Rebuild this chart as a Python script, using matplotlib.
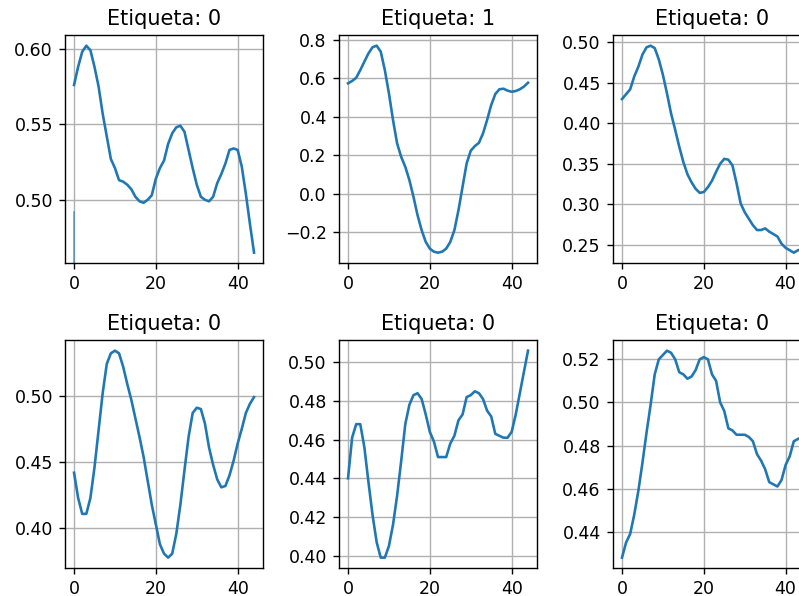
#Sample series grid

#import packages
import numpy as np
import matplotlib
matplotlib.use('Agg')
import matplotlib.pyplot as plt

titles = ['Etiqueta: 0', 'Etiqueta: 1', 'Etiqueta: 0',
          'Etiqueta: 0', 'Etiqueta: 0', 'Etiqueta: 0']

s1 = [0.576, 0.588, 0.598, 0.602, 0.599, 0.588, 0.575, 0.557, 0.542, 0.527,
      0.521, 0.513, 0.512, 0.510, 0.507, 0.502, 0.499, 0.498, 0.500, 0.503,
      0.514, 0.521, 0.526, 0.537, 0.544, 0.548, 0.549, 0.545, 0.533, 0.521,
      0.510, 0.502, 0.500, 0.499, 0.502, 0.511, 0.517, 0.524, 0.533, 0.534,
      0.533, 0.522, 0.504, 0.484, 0.465]
s2 = [0.574, 0.586, 0.603, 0.643, 0.687, 0.730, 0.762, 0.770, 0.739, 0.643,
      0.522, 0.383, 0.261, 0.191, 0.139, 0.070, -0.017, -0.113, -0.191, -0.252,
      -0.287, -0.303, -0.308, -0.303, -0.287, -0.252, -0.191, -0.087, 0.035, 0.157,
      0.223, 0.247, 0.264, 0.313, 0.383, 0.461, 0.518, 0.543, 0.546, 0.536,
      0.530, 0.534, 0.543, 0.557, 0.577]
s3 = [0.430, 0.436, 0.442, 0.458, 0.470, 0.485, 0.494, 0.496, 0.493, 0.479,
      0.460, 0.437, 0.412, 0.392, 0.371, 0.352, 0.337, 0.327, 0.319, 0.314,
      0.315, 0.321, 0.329, 0.340, 0.350, 0.356, 0.355, 0.348, 0.326, 0.301,
      0.290, 0.282, 0.274, 0.268, 0.268, 0.270, 0.266, 0.263, 0.260, 0.251,
      0.246, 0.243, 0.240, 0.243, 0.244]
s4 = [0.442, 0.423, 0.411, 0.411, 0.423, 0.446, 0.474, 0.502, 0.524, 0.532,
      0.534, 0.532, 0.522, 0.509, 0.497, 0.483, 0.469, 0.454, 0.436, 0.418,
      0.403, 0.388, 0.381, 0.378, 0.381, 0.396, 0.418, 0.444, 0.469, 0.487,
      0.491, 0.490, 0.479, 0.461, 0.448, 0.437, 0.431, 0.432, 0.440, 0.451,
      0.464, 0.475, 0.487, 0.494, 0.499]
s5 = [0.440, 0.461, 0.468, 0.468, 0.456, 0.438, 0.421, 0.407, 0.399, 0.399,
      0.405, 0.416, 0.431, 0.449, 0.468, 0.478, 0.483, 0.484, 0.481, 0.473,
      0.464, 0.459, 0.451, 0.451, 0.451, 0.458, 0.462, 0.470, 0.473, 0.482,
      0.483, 0.485, 0.484, 0.481, 0.475, 0.472, 0.463, 0.462, 0.461, 0.461,
      0.464, 0.473, 0.484, 0.495, 0.506]
s6 = [0.428, 0.435, 0.439, 0.448, 0.459, 0.472, 0.486, 0.499, 0.513, 0.520,
      0.522, 0.524, 0.523, 0.520, 0.514, 0.513, 0.511, 0.512, 0.515, 0.520,
      0.521, 0.520, 0.513, 0.510, 0.500, 0.496, 0.488, 0.487, 0.485, 0.485,
      0.485, 0.484, 0.482, 0.476, 0.473, 0.469, 0.463, 0.462, 0.461, 0.464,
      0.471, 0.475, 0.482, 0.483, 0.484]
series = [s1, s2, s3, s4, s5, s6]

# stray marker seen at the start of the first panel
stray_x = [0, 0]
stray_y = [0.492, 0.44]

fig = plt.figure(figsize=(6.392, 4.768), dpi=125)
lefts = [0.0814, 0.4243, 0.7672]
bottoms = [0.5587, 0.047]
w, h = 0.2478, 0.382

for k, (s, t) in enumerate(zip(series, titles)):
    ax = fig.add_axes([lefts[k % 3], bottoms[k // 3], w, h])
    ax.plot(np.arange(len(s)), s, color='C0', lw=1.5)
    if k == 0:
        lo, hi = ax.get_ylim()
        ax.plot(stray_x, stray_y, color='C0', lw=1, alpha=0.6)
        ax.set_ylim(lo, hi)
    ax.set_title(t)
    ax.grid(True)

plt.savefig('out.png', dpi=125)
